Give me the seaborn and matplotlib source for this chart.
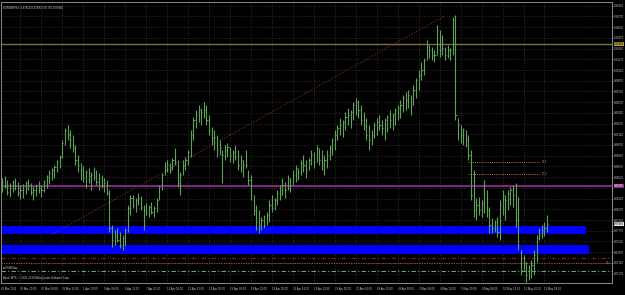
import numpy as np
import pandas as pd
import matplotlib
matplotlib.use("Agg")
import matplotlib.pyplot as plt
import matplotlib.transforms as mtransforms
from matplotlib import font_manager
import seaborn as sns

# ---------------- data (prices in pips = price * 10000) ----------------
symbol = "EURGBP,H4"
highs_pips = [8851, 8854, 8848, 8844, 8848, 8851, 8845, 8841, 8842, 8847,
              8849, 8844, 8840, 8842, 8847, 8841, 8848, 8855, 8862, 8865,
              8869, 8876, 8883, 8904, 8921, 8925, 8918, 8911, 8897, 8883,
              8872, 8868, 8862, 8865, 8859, 8866, 8862, 8858, 8855, 8851,
              8848, 8834, 8785, 8778, 8781, 8775, 8771, 8781, 8813, 8827,
              8827, 8823, 8830, 8826, 8813, 8816, 8813, 8817, 8812, 8823,
              8841, 8858, 8873, 8876, 8872, 8879, 8893, 8876, 8859, 8876,
              8880, 8890, 8918, 8936, 8946, 8953, 8949, 8957, 8953, 8939,
              8922, 8918, 8911, 8904, 8890, 8897, 8900, 8894, 8890, 8897,
              8890, 8883, 8876, 8890, 8862, 8855, 8827, 8813, 8806, 8796,
              8799, 8803, 8820, 8827, 8823, 8834, 8841, 8851, 8845, 8855,
              8851, 8862, 8869, 8865, 8876, 8883, 8876, 8879, 8890, 8887,
              8897, 8893, 8890, 8883, 8890, 8897, 8907, 8918, 8925, 8935,
              8932, 8943, 8949, 8946, 8957, 8963, 8960, 8953, 8943, 8935,
              8925, 8918, 8929, 8935, 8939, 8932, 8935, 8939, 8946, 8942,
              8949, 8953, 8960, 8967, 8971, 8974, 8967, 8981, 8991, 9002,
              9013, 9019, 9044, 9037, 9034, 9030, 9065, 9058, 9051, 9034,
              9037, 9033, 9076, 9079, 8935, 8925, 8921, 8918, 8911, 8890,
              8862, 8823, 8824, 8820, 8848, 8834, 8810, 8795, 8792, 8796,
              8820, 8834, 8827, 8834, 8838, 8841, 8844, 8824, 8750, 8743,
              8733, 8729, 8736, 8750, 8771, 8781, 8785, 8789, 8799]
lows_pips = [8831, 8837, 8827, 8824, 8831, 8834, 8826, 8821, 8823, 8828,
             8834, 8827, 8820, 8826, 8830, 8824, 8831, 8837, 8842, 8848,
             8851, 8859, 8865, 8879, 8897, 8904, 8893, 8887, 8869, 8859,
             8848, 8845, 8837, 8844, 8834, 8848, 8841, 8834, 8837, 8831,
             8827, 8775, 8754, 8757, 8761, 8753, 8750, 8756, 8775, 8799,
             8809, 8803, 8813, 8806, 8778, 8799, 8796, 8800, 8796, 8803,
             8820, 8834, 8855, 8859, 8858, 8862, 8869, 8838, 8827, 8855,
             8862, 8869, 8880, 8904, 8921, 8929, 8925, 8935, 8925, 8911,
             8897, 8890, 8880, 8883, 8844, 8876, 8880, 8873, 8872, 8876,
             8862, 8859, 8852, 8865, 8841, 8820, 8799, 8778, 8774, 8778,
             8781, 8785, 8789, 8803, 8806, 8813, 8820, 8827, 8823, 8834,
             8831, 8841, 8845, 8848, 8855, 8859, 8851, 8862, 8869, 8865,
             8873, 8869, 8862, 8855, 8865, 8876, 8883, 8890, 8904, 8911,
             8908, 8918, 8925, 8921, 8932, 8939, 8935, 8925, 8918, 8904,
             8890, 8897, 8907, 8911, 8918, 8911, 8904, 8915, 8921, 8918,
             8925, 8932, 8935, 8943, 8946, 8949, 8939, 8953, 8963, 8974,
             8988, 8995, 9016, 9019, 9016, 9013, 9023, 9020, 9023, 9016,
             9019, 9016, 9023, 8932, 8904, 8900, 8897, 8894, 8876, 8820,
             8796, 8792, 8799, 8796, 8802, 8796, 8774, 8774, 8775, 8768,
             8764, 8799, 8792, 8806, 8813, 8810, 8782, 8750, 8715, 8722,
             8705, 8708, 8711, 8715, 8733, 8764, 8767, 8770, 8775]
closes_pips = [8845, 8840, 8831, 8837, 8845, 8840, 8830, 8834, 8840, 8844,
               8841, 8831, 8834, 8840, 8837, 8834, 8845, 8852, 8858, 8862,
               8866, 8873, 8880, 8900, 8918, 8911, 8904, 8893, 8876, 8869,
               8862, 8851, 8859, 8854, 8855, 8852, 8845, 8851, 8841, 8844,
               8830, 8781, 8764, 8771, 8764, 8757, 8767, 8778, 8809, 8823,
               8813, 8820, 8823, 8810, 8806, 8803, 8810, 8803, 8809, 8820,
               8838, 8855, 8862, 8869, 8862, 8876, 8873, 8844, 8855, 8869,
               8876, 8887, 8911, 8932, 8939, 8946, 8943, 8946, 8932, 8918,
               8907, 8908, 8890, 8893, 8883, 8890, 8894, 8883, 8887, 8880,
               8869, 8876, 8869, 8869, 8848, 8827, 8806, 8789, 8785, 8792,
               8785, 8799, 8813, 8809, 8820, 8830, 8827, 8841, 8834, 8851,
               8841, 8855, 8865, 8859, 8872, 8869, 8862, 8876, 8883, 8873,
               8893, 8876, 8869, 8876, 8883, 8893, 8904, 8911, 8921, 8925,
               8929, 8936, 8939, 8943, 8953, 8957, 8946, 8932, 8925, 8911,
               8904, 8911, 8925, 8929, 8925, 8921, 8932, 8936, 8932, 8939,
               8946, 8949, 8953, 8963, 8960, 8967, 8953, 8974, 8988, 8995,
               9002, 9016, 9037, 9030, 9023, 9023, 9058, 9030, 9033, 9023,
               9030, 9030, 9072, 8939, 8925, 8911, 8918, 8904, 8883, 8827,
               8806, 8813, 8806, 8816, 8841, 8806, 8785, 8781, 8789, 8775,
               8813, 8827, 8820, 8830, 8834, 8827, 8792, 8757, 8722, 8733,
               8715, 8722, 8729, 8743, 8767, 8771, 8778, 8781, 8786]

date_labels = ["28 Mar 2011", "28 Mar 20:00", "30 Mar 04:00", "31 Mar 12:00",
               "1 Apr 20:00", "5 Apr 04:00", "6 Apr 12:00", "7 Apr 20:00",
               "11 Apr 04:00", "12 Apr 12:00", "13 Apr 20:00", "15 Apr 04:00",
               "18 Apr 12:00", "19 Apr 20:00", "21 Apr 04:00", "22 Apr 12:00",
               "25 Apr 20:00", "27 Apr 04:00", "28 Apr 12:00", "29 Apr 20:00",
               "3 May 04:00", "4 May 12:00", "5 May 20:00", "9 May 04:00",
               "10 May 12:00", "11 May 20:00", "13 May 04:00"]
date_label_bars = [-0.3, 7, 15, 23, 31, 39, 47, 55, 63, 71, 79, 87, 95, 103,
                   111, 119, 127, 135, 143, 151, 159, 167, 175, 183, 191,
                   199, 207]

price_ticks = [0.90920, 0.90770, 0.90620, 0.90470, 0.90320, 0.90170, 0.90020,
               0.89870, 0.89720, 0.89570, 0.89420, 0.89270, 0.89120, 0.88970,
               0.88820, 0.88670, 0.88520, 0.88370, 0.88220, 0.88070, 0.87920,
               0.87770, 0.87620, 0.87470, 0.87320, 0.87170]

gold_level = 0.90384
magenta_level = 0.88396
bid_level = 0.87864
zone_upper = (0.87726, 0.87836)
zone_lower = (0.87444, 0.87570)
red_level = 0.87390
orange_level = 0.87318
green_level = 0.87206
fibo_levels = [0.88732, 0.88564]
fibo_labels = ["61.8", "50.0"]
trend_bars = [19, 169]
trend_prices = [0.87720, 0.90780]

# ---------------- frame ----------------
df = pd.DataFrame({
    "bar": np.arange(len(highs_pips)),
    "high": np.array(highs_pips) / 10000.0,
    "low": np.array(lows_pips) / 10000.0,
    "close": np.array(closes_pips) / 10000.0,
})

sns.set_theme(style="dark", rc={"axes.facecolor": "black", "figure.facecolor": "black"})
try:
    font_manager.findfont("Liberation Sans Narrow", fallback_to_default=False)
    fam = ["Liberation Sans Narrow", "DejaVu Sans"]
except Exception:
    fam = ["Liberation Sans", "DejaVu Sans"]
plt.rcParams["font.family"] = fam

W, H = 625, 295
fig = plt.figure(figsize=(W / 100, H / 100), dpi=100, facecolor="black")
renderer = fig.canvas.get_renderer()

# choose a font size so a price label fits the narrow price-scale column
probe = fig.text(0, 0, "0.90920", fontsize=10)
w10 = probe.get_window_extent(renderer).width
probe.remove()
FS = min(2.6, 10.0 * 9.8 / w10)

ax = fig.add_axes([1 / W, 1 - 283 / H, 611 / W, 281 / H])
ax.set_facecolor("black")

x_max = (612 - 1) / 2.625
ax.set_xlim(-0.4, x_max)
ax.set_ylim(0.87038, 0.90972)

# grid
grid_col = "#3a3a3a"
for p in price_ticks:
    ax.axhline(p, color=grid_col, lw=0.6, ls=(0, (1, 2)), zorder=0)
for b in date_label_bars[1:]:
    ax.axvline(b, color=grid_col, lw=0.6, ls=(0, (1, 2)), zorder=0)

# zones (rectangles)
ax.fill_between([-1, 222.9], zone_upper[0], zone_upper[1], color="#0000ff", lw=0, zorder=1)
ax.fill_between([-1, 224.0], zone_lower[0], zone_lower[1], color="#0000ff", lw=0, zorder=1)

# horizontal levels
ax.axhline(gold_level, color="#7d6d3c", lw=1.0, zorder=2)
ax.axhline(magenta_level, color="#8a2b8a", lw=1.3, zorder=2)
ax.axhline(red_level, color="#7a2222", lw=0.8, ls=(0, (4, 2, 1, 2)), zorder=2)
ax.axhline(orange_level, color="#9a5a2a", lw=0.8, ls=(0, (1, 1.2)), zorder=2)
ax.axhline(green_level, color="#6fa06f", lw=0.8, ls=(0, (4, 2, 1, 2)), zorder=2)

# fibo short lines
for lvl, lab in zip(fibo_levels, fibo_labels):
    ax.hlines(lvl, 178, 205, color="#c07a3a", lw=0.7, ls=(0, (1, 1.2)), zorder=2)
    ax.text(206, lvl, lab, color="#c07a3a", fontsize=FS, va="center", ha="left")
ax.text(x_max - 0.5, orange_level, "38.2", color="#c07a3a", fontsize=FS, va="center", ha="right")

# trend line
sns.lineplot(x=trend_bars, y=trend_prices, ax=ax, color="#7a2a2a", lw=0.8,
             linestyle=(0, (1, 1.5)), zorder=2, legend=False)

# OHLC bars
bar_col = "#5da356"
ax.vlines(df["bar"], df["low"], df["high"], color=bar_col, lw=0.8, zorder=3)
ax.hlines(df["close"], df["bar"], df["bar"] + 0.45, color=bar_col, lw=0.7, zorder=3)

# axes styling
for s in ["left", "top", "right", "bottom"]:
    ax.spines[s].set_color("#8a8a8a")
    ax.spines[s].set_linewidth(0.7)
ax.yaxis.tick_right()
ax.set_yticks(price_ticks)
level_boxes = [gold_level, magenta_level, bid_level]
tick_texts = ["" if min(abs(p - lv) for lv in level_boxes) < 0.0004 else f"{p:.5f}"
              for p in price_ticks]
ax.set_yticklabels(tick_texts)
ax.tick_params(axis="y", colors="#c8c8c8", labelsize=FS, length=1.0, width=0.5, pad=0.4)
ax.set_xticks(date_label_bars)
ax.set_xticklabels(date_labels)
ax.tick_params(axis="x", colors="#c8c8c8", labelsize=FS, length=1.5, width=0.5, pad=1.5)
for t in ax.get_xticklabels():
    t.set_ha("left")
ax.set_xlabel("")
ax.set_ylabel("")
ax.grid(False)

# right-axis level boxes
trans = mtransforms.blended_transform_factory(ax.transAxes, ax.transData)
box_kw = dict(transform=trans, fontsize=FS, va="center", ha="left", clip_on=False)
ax.text(1.003, gold_level, f"{gold_level:.5f}", color="black",
        bbox=dict(boxstyle="square,pad=0.05", fc="#b89a3a", ec="none"), **box_kw)
ax.text(1.003, magenta_level, f"{magenta_level:.5f}", color="white",
        bbox=dict(boxstyle="square,pad=0.05", fc="#8a2b8a", ec="none"), **box_kw)
ax.text(1.003, bid_level, f"{bid_level:.5f}", color="black",
        bbox=dict(boxstyle="square,pad=0.05", fc="#e8e8e8", ec="none"), **box_kw)

# texts
fig.text(3 / W, 1 - 8 / H, f"{symbol}  0.87810 0.87990 0.87750 0.87860", color="#d0d0d0",
         fontsize=FS, va="center", ha="left")
fig.text(3 / W, 1 - 268.5 / H, "ex0%N8.buy", color="#d0d0d0", fontsize=FS, va="center", ha="left")
fig.text(3 / W, 1 - 278.5 / H, "Alpari MT4, \u00a9 2001-2010 MetaQuotes Software Corp.",
         color="#d0d0d0", fontsize=FS, va="center", ha="left")

fig.savefig("out.png", dpi=100, facecolor="black")
